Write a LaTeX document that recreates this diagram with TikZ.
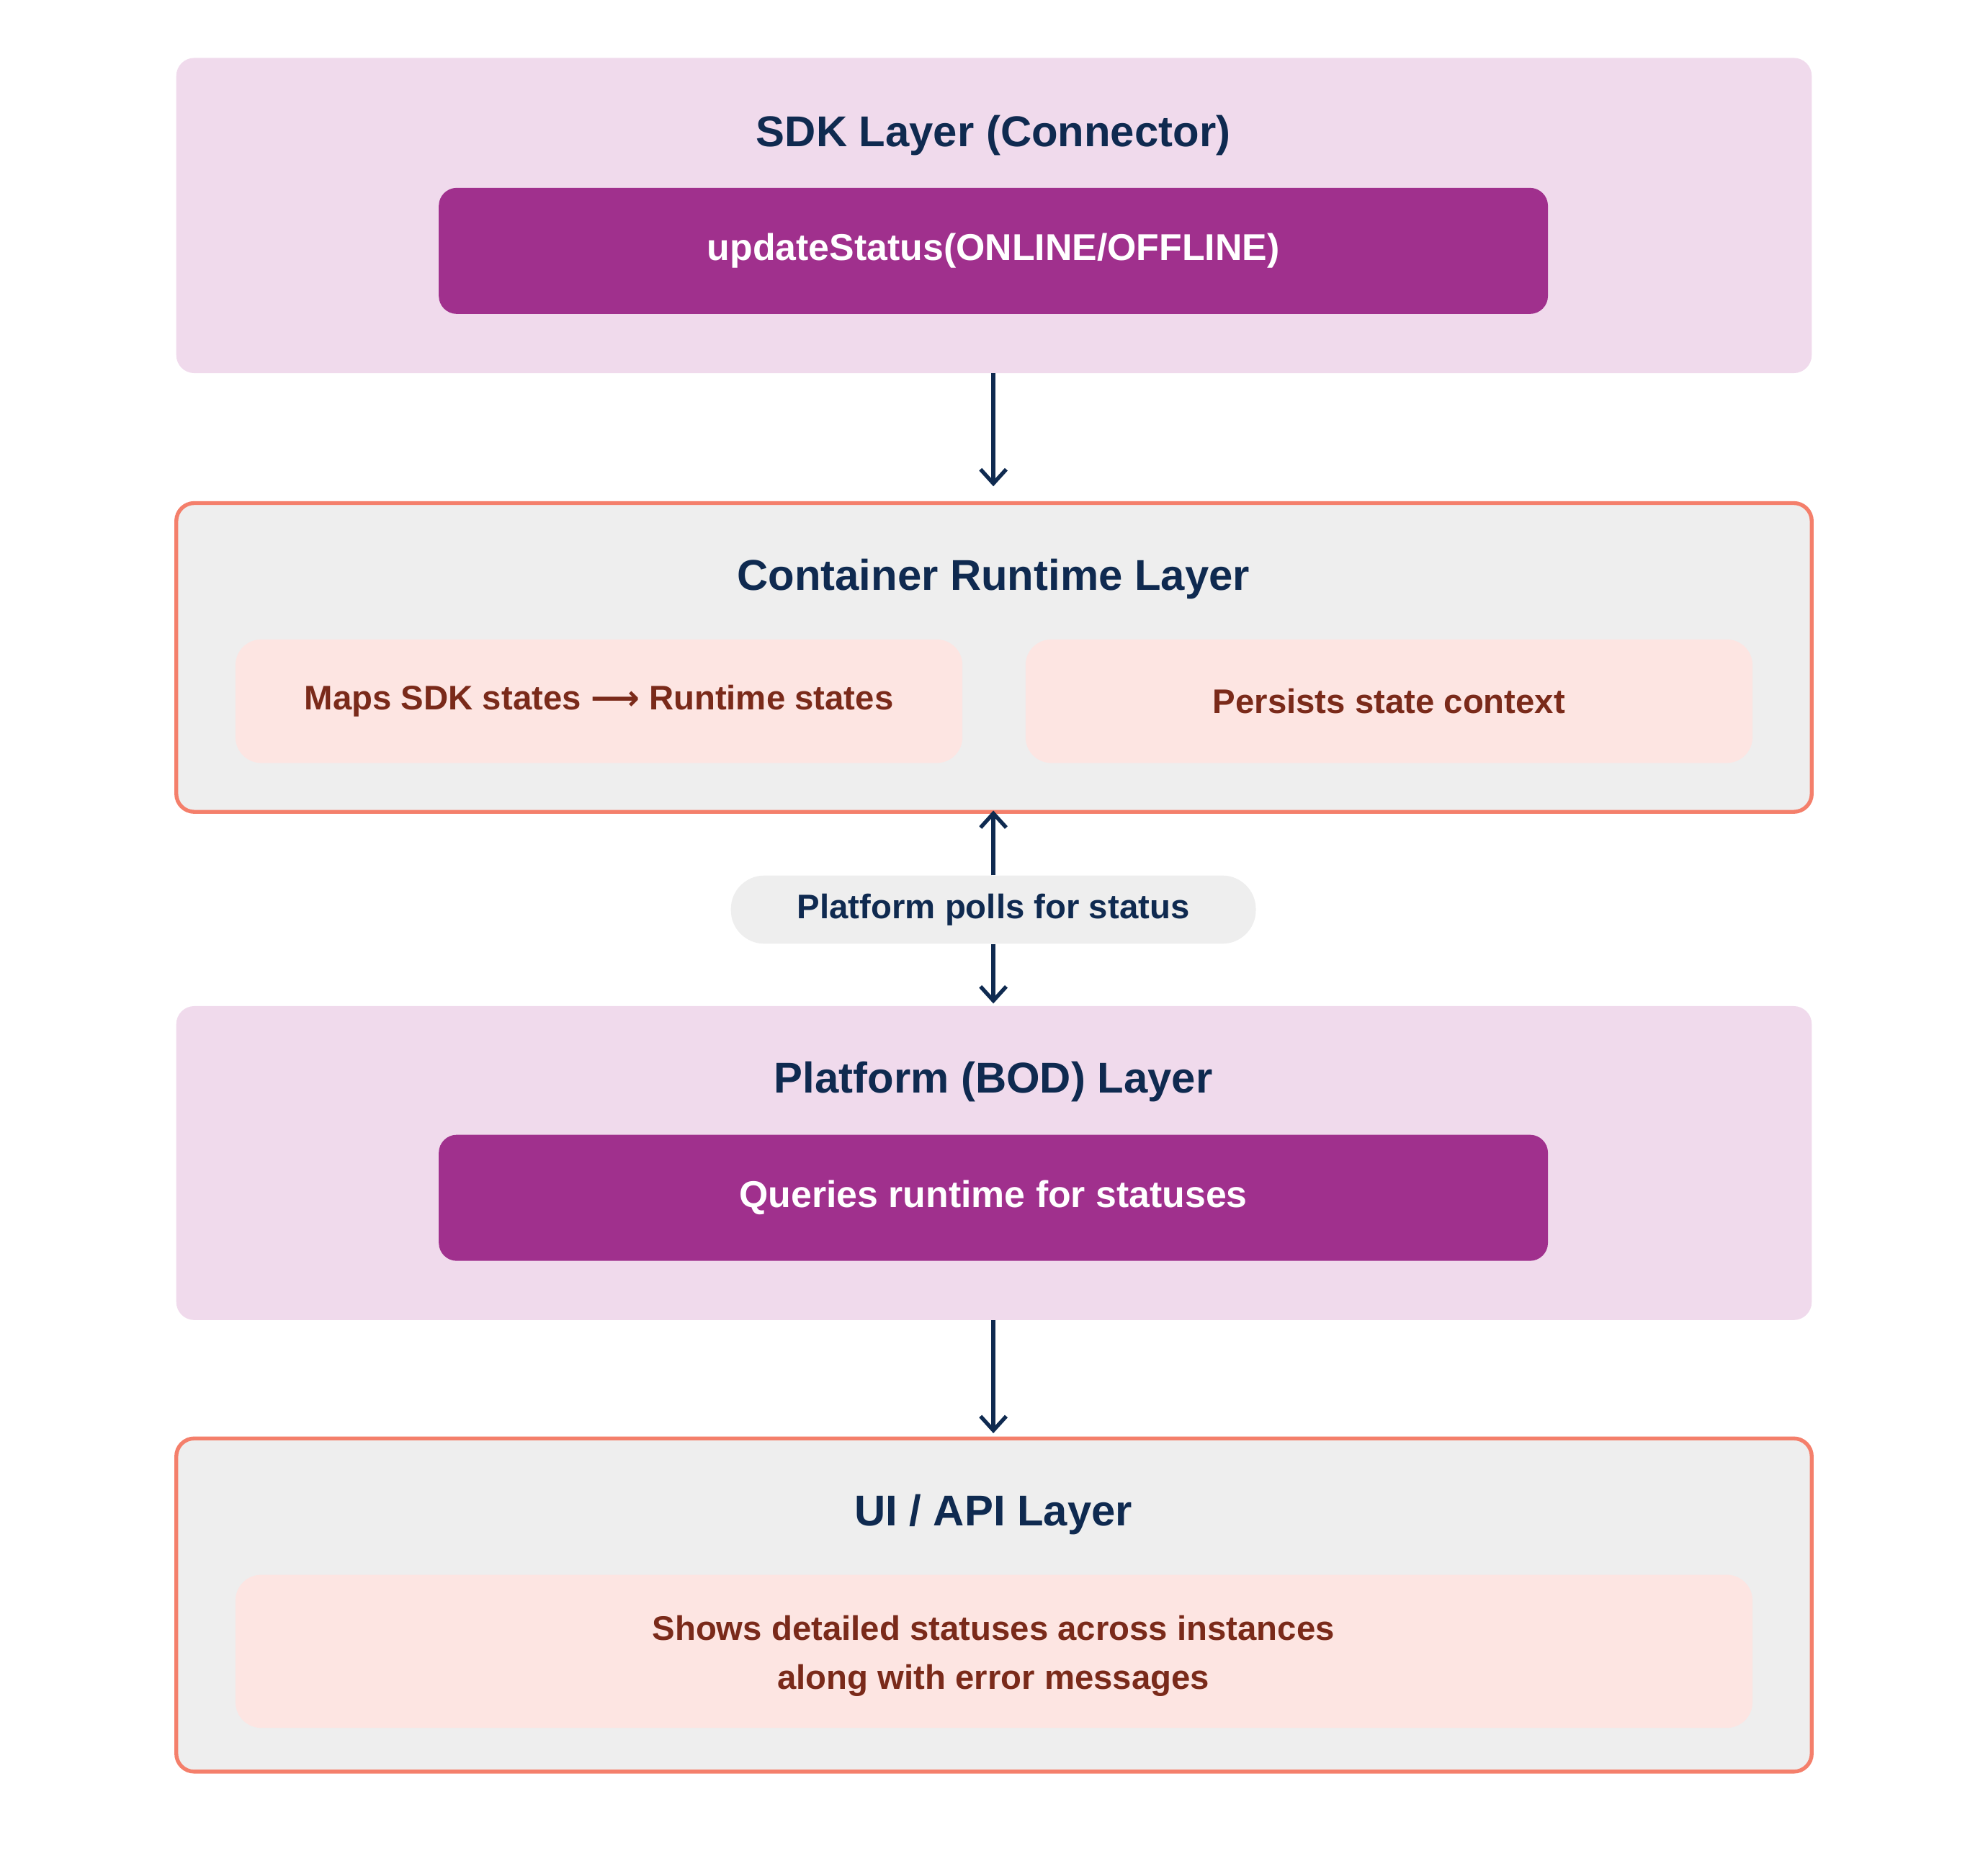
\documentclass[tikz,border=0pt]{standalone}
\usepackage{fontspec}
\setmainfont{Liberation Sans}
\newfontfamily\arrowfont{DejaVu Sans}
\usetikzlibrary{arrows.meta}
\definecolor{layerpink}{HTML}{F0DAEC}
\definecolor{inner}{HTML}{A0308D}
\definecolor{greybg}{HTML}{EEEEEE}
\definecolor{salmon}{HTML}{F47F6B}
\definecolor{subfill}{HTML}{FDE5E2}
\definecolor{subtext}{HTML}{7A2A1A}
\definecolor{navy}{HTML}{0F2A50}
\begin{document}
\begin{tikzpicture}[x=1pt,y=-1pt,
  pinklayer/.style={fill=layerpink,rounded corners=14pt,draw=none},
  greylayer/.style={fill=greybg,draw=salmon,line width=3pt,rounded corners=14pt},
  innerbox/.style={fill=inner,rounded corners=14pt,draw=none},
  subbox/.style={fill=subfill,rounded corners=20pt,draw=none},
  title/.style={font=\fontsize{33.5}{40}\selectfont\bfseries,text=navy},
  whitetxt/.style={font=\fontsize{29}{34}\selectfont\bfseries,text=white},
  subtxt/.style={font=\fontsize{26.5}{38}\selectfont\bfseries,text=subtext,align=center},
  arr/.style={draw=navy,line width=3.5pt,-{Straight Barb[length=11pt,width=20pt,line width=3pt]}}]
\useasboundingbox (0,0) rectangle (1545,1446);
% SDK layer
\draw[pinklayer] (137,45) rectangle (1408,290);
\node[title] (t1) at (772,105) {SDK Layer (Connector)};
\draw[innerbox] (341,146) rectangle (1203,244);
\node[whitetxt] (i1) at (772,195) {updateStatus(ONLINE/OFFLINE)};
\coordinate (sdkb) at (772,290);
% Container layer
\draw[greylayer] (137,391) rectangle (1408,631);
\coordinate (crt) at (772,378);
\coordinate (crb) at (772,630);
\node[title] (t2) at (772,450) {Container Runtime Layer};
\draw[subbox] (183,497) rectangle (748,593);
\node[subtxt] (s1) at (465.5,545) {Maps SDK states {\arrowfont\bfseries ⟶} Runtime states};
\draw[subbox] (797,497) rectangle (1362,593);
\node[subtxt] (s2) at (1079.5,545) {Persists state context};
% pill
\node[fill=greybg,rounded corners=26pt,minimum width=408pt,minimum height=53pt,font=\fontsize{26.5}{30}\selectfont\bfseries,text=navy] (pill) at (772,707) {Platform polls for status};
% Platform layer
\draw[pinklayer] (137,782) rectangle (1408,1026);
\coordinate (plt) at (772,780);
\node[title] (t3) at (772,841) {Platform (BOD) Layer};
\draw[innerbox] (341,882) rectangle (1203,980);
\node[whitetxt] (i2) at (772,931) {Queries runtime for statuses};
\coordinate (plb) at (772,1026);
% UI layer
\draw[greylayer] (137,1118) rectangle (1408,1377);
\coordinate (uit) at (772,1114);
\node[title] (t4) at (772,1177) {UI / API Layer};
\draw[subbox] (183,1224) rectangle (1362,1343);
\node[subtxt] (s3) at (772,1287) {Shows detailed statuses across instances\\along with error messages};
% arrows
\draw[arr] (sdkb) -- (crt);
\draw[arr] (pill.north) -- (crb);
\draw[arr] (pill.south) -- (plt);
\draw[arr] (plb) -- (uit);
\end{tikzpicture}
\end{document}
